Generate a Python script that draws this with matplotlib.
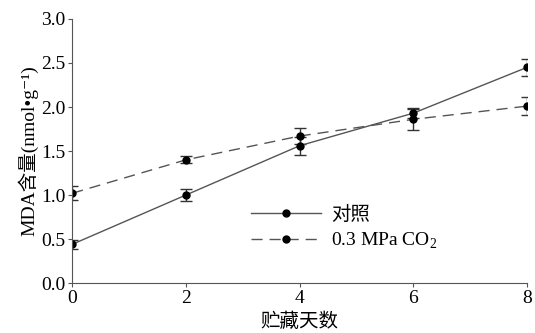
import numpy as np
import matplotlib.pyplot as plt
from matplotlib.lines import Line2D

plt.rcParams['font.family'] = ['Liberation Serif', 'Noto Sans CJK SC', 'DejaVu Serif']
plt.rcParams['mathtext.fontset'] = 'custom'
plt.rcParams['mathtext.rm'] = 'Liberation Serif'

days = [0, 2, 4, 6, 8]
ctrl = [0.44, 1.00, 1.56, 1.93, 2.45]
ctrl_err = [0.05, 0.07, 0.10, 0.06, 0.10]
co2 = [1.02, 1.40, 1.67, 1.86, 2.01]
co2_err = [0.08, 0.04, 0.09, 0.12, 0.10]

fig = plt.figure(figsize=(5.35, 3.33), dpi=100)
ax = fig.add_axes([0.135, 0.15, 0.850, 0.793])

lc = '#555555'
dash = (0, (8, 5))
ax.errorbar(days, ctrl, yerr=ctrl_err, color=lc, lw=1.0, ls='-',
            marker='o', ms=5, mfc='black', mec='black',
            ecolor='#333333', elinewidth=1.0, capsize=4)
ax.errorbar(days, co2, yerr=co2_err, color=lc, lw=1.0, ls=dash,
            marker='o', ms=5, mfc='black', mec='black',
            ecolor='#333333', elinewidth=1.0, capsize=4)

ax.set_xlim(0, 8)
ax.set_ylim(0, 3.0)
ax.set_xticks([0, 2, 4, 6, 8])
ax.set_yticks(np.arange(0, 3.01, 0.5))
ax.set_yticklabels(['%.1f' % v for v in np.arange(0, 3.01, 0.5)])
for s in ['top', 'right']:
    ax.spines[s].set_visible(False)
for s in ['left', 'bottom']:
    ax.spines[s].set_color('#555555')
ax.tick_params(direction='out', length=3, color='#555555', labelsize=14, pad=2)
ax.set_xlabel('贮藏天数', fontsize=14, labelpad=4)
ax.set_ylabel('MDA含量(nmol•g⁻¹)', fontsize=14, labelpad=2)

handles = [
    Line2D([], [], color=lc, lw=1.0, ls='-', marker='o', ms=5,
           mfc='black', mec='black'),
    Line2D([], [], color=lc, lw=1.0, ls=dash, marker='o', ms=5,
           mfc='black', mec='black'),
]
ax.legend(handles, ['对照', '0.3 MPa CO$_2$'], loc='lower left',
          bbox_to_anchor=(0.355, 0.055), frameon=False,
          fontsize=14, handlelength=3.6, handletextpad=0.5, labelspacing=0.35)

fig.savefig('out.png')
